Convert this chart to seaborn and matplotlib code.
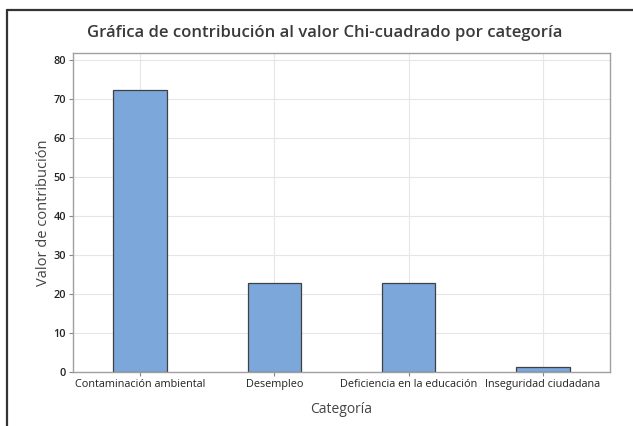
import matplotlib
matplotlib.use("Agg")
import matplotlib.pyplot as plt
import seaborn as sns
import pandas as pd
from matplotlib.lines import Line2D

categories = ["Contaminación ambiental", "Desempleo", "Deficiencia en la educación", "Inseguridad ciudadana"]
values = [72.2, 22.7, 22.7, 1.2]
yticks = [0, 10, 20, 30, 40, 50, 60, 70, 80]

sns.set_theme(style="white")
plt.rcParams['font.family'] = ['Open Sans', 'DejaVu Sans']

df = pd.DataFrame({"Categoría": categories, "Valor": values})

fig = plt.figure(figsize=(6.33, 4.26), dpi=100)
ax = fig.add_axes([73/633, 1-372/426, (610-73)/633, (372-53)/426])
sns.barplot(data=df, x="Categoría", y="Valor", ax=ax, color="#7ba7da", width=0.4,
            edgecolor="#404040", linewidth=0.9, saturation=1)
ax.set_axisbelow(True)
ax.grid(True, axis="both", color="#e6e6e6", linewidth=0.8)
ax.set_xlim(-0.5, 3.5)
ax.set_ylim(0, 81.8)
ax.set_yticks(yticks)
ax.tick_params(axis="both", which="both", length=3, width=0.8, color="#888888",
               labelsize=7.8, labelcolor="#222222", pad=2, bottom=True, left=True)
for lbl in ax.get_yticklabels():
    lbl.set_fontweight("semibold")
for s in ax.spines.values():
    s.set_color("#a0a0a0")
    s.set_linewidth(1.0)
ax.set_xlabel("Categoría", fontsize=10, color="#444444", labelpad=9)
ax.set_ylabel("Valor de contribución", fontsize=10.5, color="#444444", labelpad=2)
fig.text(325/633, 1-33/426, "Gráfica de contribución al valor Chi-cuadrado por categoría",
         ha="center", va="center", fontsize=12.0, fontweight="semibold", color="#3a3a3a")

fig.add_artist(Line2D([7/633, 7/633], [0, 1-10/426], transform=fig.transFigure, color="#333333", linewidth=1.6))
fig.add_artist(Line2D([7/633, 1], [1-10/426, 1-10/426], transform=fig.transFigure, color="#333333", linewidth=1.6))

fig.savefig("out.png", dpi=100)
